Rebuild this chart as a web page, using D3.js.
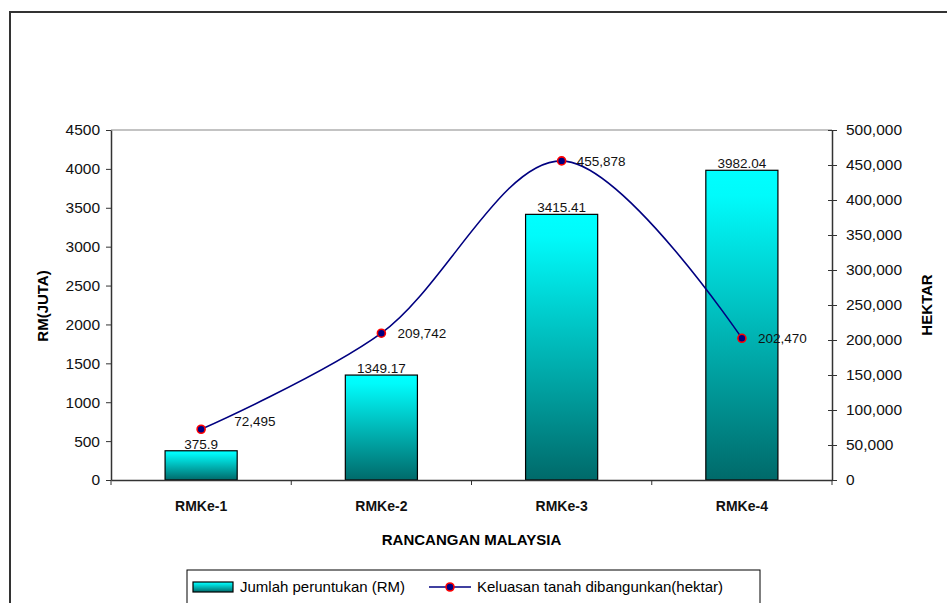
<!DOCTYPE html>
<html>
<head>
<meta charset="utf-8">
<script src="https://cdn.jsdelivr.net/npm/d3@7"></script>
<style>
  body { margin: 0; background: #fff; }
  svg { display: block; font-family: Arial, "Liberation Sans", sans-serif; }
</style>
</head>
<body>
<svg width="947" height="603"></svg>
<script>
// data
var categories = ["RMKe-1", "RMKe-2", "RMKe-3", "RMKe-4"];
var allocation = [375.9, 1349.17, 3415.41, 3982.04];       // RM (juta)
var landArea = [72495, 209742, 455878, 202470];           // hektar
var leftTicks = [0, 500, 1000, 1500, 2000, 2500, 3000, 3500, 4000, 4500];
var rightTicks = [0, 50000, 100000, 150000, 200000, 250000, 300000, 350000, 400000, 450000, 500000];
var barLabels = ["375.9", "1349.17", "3415.41", "3982.04"];

var svg = d3.select("svg");
var plotLeft = 111, plotRight = 832, plotTop = 130, plotBottom = 480;

// outer frame
svg.append("rect")
    .attr("x", 10).attr("y", 12)
    .attr("width", 960).attr("height", 620)
    .attr("fill", "none")
    .attr("stroke", "#333")
    .attr("stroke-width", 2);

var defs = svg.append("defs");
var grad = defs.append("linearGradient")
    .attr("id", "barGrad")
    .attr("x1", 0).attr("y1", 0).attr("x2", 0).attr("y2", 1);
grad.append("stop").attr("offset", "0%").attr("stop-color", "#00ffff");
grad.append("stop").attr("offset", "8%").attr("stop-color", "#00fbfb");
grad.append("stop").attr("offset", "100%").attr("stop-color", "#006a6a");

var x = d3.scaleBand().domain(categories).range([plotLeft, plotRight]).padding(0);
var y = d3.scaleLinear().domain([0, 4500]).range([plotBottom, plotTop]);
var y2 = d3.scaleLinear().domain([0, 500000]).range([plotBottom, plotTop]);

// plot area top line
svg.append("line")
    .attr("x1", plotLeft).attr("x2", plotRight)
    .attr("y1", plotTop).attr("y2", plotTop)
    .attr("stroke", "#888").attr("stroke-width", 1.2);

// bars
var barW = x.bandwidth() * 0.4;
svg.selectAll(".bar")
    .data(allocation)
    .enter().append("rect")
    .attr("class", "bar")
    .attr("x", function (d, i) { return x(categories[i]) + (x.bandwidth() - barW) / 2; })
    .attr("y", function (d) { return y(d); })
    .attr("width", barW)
    .attr("height", function (d) { return plotBottom - y(d); })
    .attr("fill", "url(#barGrad)")
    .attr("stroke", "#000")
    .attr("stroke-width", 1.2);

svg.selectAll(".barLabel")
    .data(allocation)
    .enter().append("text")
    .attr("class", "barLabel")
    .attr("x", function (d, i) { return x(categories[i]) + x.bandwidth() / 2; })
    .attr("y", function (d) { return y(d) - 2; })
    .attr("text-anchor", "middle")
    .attr("font-size", "13.5px")
    .attr("fill", "#111")
    .text(function (d, i) { return barLabels[i]; });

// axes
var gLeft = svg.append("g")
    .attr("transform", "translate(" + plotLeft + ",0)")
    .call(d3.axisLeft(y).tickValues(leftTicks).tickFormat(d3.format("d")).tickSize(5).tickSizeOuter(0).tickPadding(6));
var gRight = svg.append("g")
    .attr("transform", "translate(" + plotRight + ",0)")
    .call(d3.axisRight(y2).tickValues(rightTicks).tickFormat(d3.format(",")).tickSize(5).tickSizeOuter(0).tickPadding(9));
gRight.selectAll(".tick line").attr("x1", -4);

var gBottom = svg.append("g")
    .attr("transform", "translate(0," + plotBottom + ")")
    .call(d3.axisBottom(x).tickSize(0).tickSizeOuter(0).tickPadding(21));
gBottom.selectAll(".tick text")
    .attr("font-weight", "bold")
    .attr("font-size", "14px");

// category boundary ticks
svg.selectAll(".xtick")
    .data(categories.concat(["end"]))
    .enter().append("line")
    .attr("class", "xtick")
    .attr("x1", function (d, i) { return plotLeft + i * x.bandwidth(); })
    .attr("x2", function (d, i) { return plotLeft + i * x.bandwidth(); })
    .attr("y1", plotBottom).attr("y2", plotBottom + 5)
    .attr("stroke", "#333");

[gLeft, gRight, gBottom].forEach(function (g) {
    g.select(".domain").attr("stroke", "#333").attr("stroke-width", 1.5);
    g.selectAll(".tick line").attr("stroke", "#333");
    g.selectAll(".tick text").attr("fill", "#111");
});
gLeft.selectAll(".tick text").attr("font-size", "15.5px");
gRight.selectAll(".tick text").attr("font-size", "15.5px");

// line series (smoothed)
var line = d3.line()
    .x(function (d, i) { return x(categories[i]) + x.bandwidth() / 2; })
    .y(function (d) { return y2(d); })
    .curve(d3.curveCatmullRom.alpha(0.5));

svg.append("path")
    .datum(landArea)
    .attr("d", line)
    .attr("fill", "none")
    .attr("stroke", "#000080")
    .attr("stroke-width", 1.6);

svg.selectAll(".dot")
    .data(landArea)
    .enter().append("circle")
    .attr("class", "dot")
    .attr("cx", function (d, i) { return x(categories[i]) + x.bandwidth() / 2; })
    .attr("cy", function (d) { return y2(d); })
    .attr("r", 4)
    .attr("fill", "#000080")
    .attr("stroke", "#ff0000")
    .attr("stroke-width", 1.6);

var lblDx = [33, 16, 15, 16], lblDy = [-8, 0, 0, 0];
svg.selectAll(".ptLabel")
    .data(landArea)
    .enter().append("text")
    .attr("class", "ptLabel")
    .attr("x", function (d, i) { return x(categories[i]) + x.bandwidth() / 2 + lblDx[i]; })
    .attr("y", function (d, i) { return y2(d) + lblDy[i]; })
    .attr("dy", "0.35em")
    .attr("font-size", "13.5px")
    .attr("fill", "#111")
    .text(function (d) { return d3.format(",")(d); });

// axis titles
svg.append("text")
    .attr("transform", "translate(48,306) rotate(-90)")
    .attr("text-anchor", "middle")
    .attr("font-weight", "bold")
    .attr("font-size", "15px")
    .text("RM(JUTA)");
svg.append("text")
    .attr("transform", "translate(932,305) rotate(-90)")
    .attr("text-anchor", "middle")
    .attr("font-weight", "bold")
    .attr("font-size", "15px")
    .text("HEKTAR");
svg.append("text")
    .attr("x", (plotLeft + plotRight) / 2).attr("y", 545)
    .attr("text-anchor", "middle")
    .attr("font-weight", "bold")
    .attr("font-size", "15px")
    .text("RANCANGAN MALAYSIA");

// legend
var lg = svg.append("g");
lg.append("rect")
    .attr("x", 187).attr("y", 570)
    .attr("width", 573).attr("height", 50)
    .attr("fill", "#fff").attr("stroke", "#000").attr("stroke-width", 1);
lg.append("rect")
    .attr("x", 193).attr("y", 582)
    .attr("width", 40).attr("height", 10)
    .attr("fill", "url(#barGrad)").attr("stroke", "#000").attr("stroke-width", 1.2);
lg.append("text")
    .attr("x", 240).attr("y", 587).attr("dy", "0.35em")
    .attr("font-size", "15px")
    .text("Jumlah peruntukan (RM)");
lg.append("line")
    .attr("x1", 429).attr("x2", 471).attr("y1", 587).attr("y2", 587)
    .attr("stroke", "#000080").attr("stroke-width", 1.6);
lg.append("circle")
    .attr("cx", 450).attr("cy", 587).attr("r", 4)
    .attr("fill", "#000080").attr("stroke", "#ff0000").attr("stroke-width", 1.6);
lg.append("text")
    .attr("x", 477).attr("y", 587).attr("dy", "0.35em")
    .attr("font-size", "15px")
    .text("Keluasan tanah dibangunkan(hektar)");
</script>
</body>
</html>
